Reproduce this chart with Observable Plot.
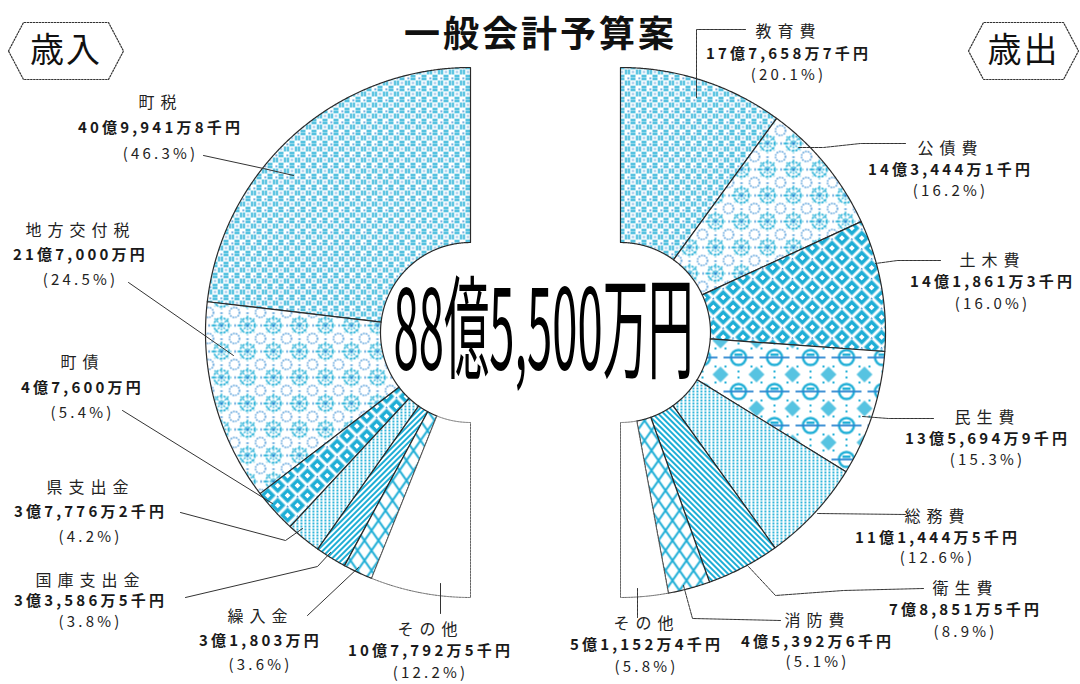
<!DOCTYPE html>
<html><head><meta charset="utf-8">
<script src="https://cdn.jsdelivr.net/npm/d3@7"></script>
<script src="https://cdn.jsdelivr.net/npm/@observablehq/plot@0.6"></script>
<style>body{margin:0;background:#fff} svg{display:block}</style>
</head><body><div id="chart"></div>
<script>
// ---------- DATA (amounts in 千円) ----------
const chartTitle = "一般会計予算案";
const revenueTitle = "歳入";
const expenditureTitle = "歳出";

const revenueNames = ["町税","地方交付税","町債","県支出金","国庫支出金","繰入金","その他"];
const revenueValues = [4099418, 2170000, 476000, 377762, 335865, 318030, 1077925];
const revenueAmounts = ["40億9,941万8千円","21億7,000万円","4億7,600万円","3億7,776万2千円","3億3,586万5千円","3億1,803万円","10億7,792万5千円"];
const revenuePercents = ["(46.3%)","(24.5%)","(5.4%)","(4.2%)","(3.8%)","(3.6%)","(12.2%)"];

const expenditureNames = ["教育費","公債費","土木費","民生費","総務費","衛生費","消防費","その他"];
const expenditureValues = [1776587, 1434441, 1418613, 1356949, 1114445, 788515, 453926, 511524];
const expenditureAmounts = ["17億7,658万7千円","14億3,444万1千円","14億1,861万3千円","13億5,694万9千円","11億1,444万5千円","7億8,851万5千円","4億5,392万6千円","5億1,152万4千円"];
const expenditurePercents = ["(20.1%)","(16.2%)","(16.0%)","(15.3%)","(12.6%)","(8.9%)","(5.1%)","(5.8%)"];

// ---------- STYLE / LAYOUT ----------
const C1 = "#1eaed6", C2 = "#2b86d1";
const revenuePatterns = ["lattice","flower","diamond","dots","diagL","cross",null];
const expenditurePatterns = ["lattice","flower","diamond","rings","dots","diagR","cross",null];

const geom = {R: 265, r: 90,
  left: {cx: 470, cy: 332, side: -1},
  right: {cx: 620, cy: 332, side: 1}};

const revenueLabelPos = [
  {x:160, y:[102,128,154]},
  {x:80,  y:[230,255,280]},
  {x:82,  y:[362,388,413]},
  {x:90,  y:[487,512,537]},
  {x:90,  y:[580,601,622]},
  {x:260, y:[616,641,665]},
  {x:430, y:[629,651,673]}
];
const expenditureLabelPos = [
  {x:788, y:[31,54,75]},
  {x:950, y:[148,170,191]},
  {x:992, y:[260,282,304]},
  {x:987, y:[417,439,460]},
  {x:937, y:[516,538,558]},
  {x:965, y:[588,610,632]},
  {x:817, y:[620,642,662]},
  {x:646, y:[623,645,667]}
];
const revenueLeaders = [
  [[203,155],[263,168],[293,175]],
  [[128,282],[233,355]],
  [[122,410],[272,503]],
  [[180,512],[285,540],[302,528]],
  [[185,597],[317,566],[330,552]],
  [[307,615],[358,567]],
  [[440,583],[440,613]]
];
const expenditureLeaders = [
  [[745,29],[696,29],[696,97]],
  [[905,143],[860,143],[823,147],[798,147]],
  [[940,260],[897,260],[875,263]],
  [[933,418],[888,418],[862,416]],
  [[905,514],[817,513]],
  [[923,588],[843,590],[775,595],[747,565]],
  [[780,620],[692,618],[683,585]],
  [[637,588],[637,617]]
];
const badges = [
  {text: revenueTitle, cx: 65.5, cy: 50.5, w: 115, h: 57, k: 15},
  {text: expenditureTitle, cx: 1023, cy: 50.5, w: 110, h: 57, k: 15}
];

// ---------- GEOMETRY FROM DATA ----------
function slices(values) {
  const total = d3.sum(values);
  let acc = 0;
  return values.map(v => {
    const a0 = acc / total * Math.PI; acc += v;
    return {a0, a1: acc / total * Math.PI};
  });
}
function wedgePoints(g, a0, a1) {
  const {R, r} = geom;
  const n = Math.max(2, Math.ceil((a1 - a0) / (Math.PI / 720)));
  const pts = [];
  for (let k = 0; k <= n; k++) { const a = a0 + (a1 - a0) * k / n; pts.push({x: g.cx + g.side * R * Math.sin(a), y: g.cy - R * Math.cos(a)}); }
  for (let k = n; k >= 0; k--) { const a = a0 + (a1 - a0) * k / n; pts.push({x: g.cx + g.side * r * Math.sin(a), y: g.cy - r * Math.cos(a)}); }
  pts.push(pts[0]);
  return pts;
}
function formatTotal(t) { // 千円 -> 億/万
  const oku = Math.floor(t / 100000), man = Math.floor((t % 100000) / 10), sen = t % 10;
  return `${oku}億${d3.format(",")(man)}万${sen ? sen + "千" : ""}円`;
}
const totalLabel = formatTotal(d3.sum(expenditureValues));

const marks = [];
function addHalf(values, patterns, g) {
  slices(values).forEach((s, i) => {
    const pts = wedgePoints(g, s.a0, s.a1);
    const pat = patterns[i];
    marks.push(Plot.line(pts, {x: "x", y: "y",
      fill: pat ? `url(#${pat})` : "#fff",
      stroke: pat ? "#2a2a2a" : "#555",
      strokeWidth: pat ? 1.2 : 0.9,
      strokeDasharray: pat ? null : "2,1",
      strokeLinejoin: "round"}));
  });
}
addHalf(revenueValues, revenuePatterns, geom.left);
addHalf(expenditureValues, expenditurePatterns, geom.right);

// leaders
const leaderRows = (arr, names) => arr.flatMap((pts, i) => pts.map(([x, y]) => ({x, y, k: names[i]})));
marks.push(Plot.line(leaderRows(revenueLeaders, revenueNames), {x: "x", y: "y", z: "k", stroke: "#333", strokeWidth: 1}));
marks.push(Plot.line(leaderRows(expenditureLeaders, expenditureNames), {x: "x", y: "y", z: "k", stroke: "#333", strokeWidth: 1, strokeDasharray: "3,1"}));

// labels
function labelRows(names, amounts, pcts, pos) {
  return names.flatMap((n, i) => [
    {x: pos[i].x, y: pos[i].y[0], t: n, kind: "name"},
    {x: pos[i].x, y: pos[i].y[1], t: amounts[i], kind: "amount"},
    {x: pos[i].x, y: pos[i].y[2], t: pcts[i], kind: "pct"}
  ]);
}
const rows = [...labelRows(revenueNames, revenueAmounts, revenuePercents, revenueLabelPos),
              ...labelRows(expenditureNames, expenditureAmounts, expenditurePercents, expenditureLabelPos)];
marks.push(Plot.text(rows.filter(d => d.kind === "name"), {x: "x", y: "y", text: "t", fontSize: 16, fill: "#222"}));
marks.push(Plot.text(rows.filter(d => d.kind === "amount"), {x: "x", y: "y", text: "t", fontSize: 15, fontWeight: 700, fill: "#1a1a1a"}));
marks.push(Plot.text(rows.filter(d => d.kind === "pct"), {x: "x", y: "y", text: "t", fontSize: 15, fill: "#222"}));

// badges
const badgePts = badges.flatMap(b => {
  const L = b.cx - b.w / 2, Rr = b.cx + b.w / 2, T = b.cy - b.h / 2, B = b.cy + b.h / 2;
  return [[L, b.cy],[L + b.k, T],[Rr - b.k, T],[Rr, b.cy],[Rr - b.k, B],[L + b.k, B],[L, b.cy]].map(([x, y]) => ({x, y, k: b.text}));
});
marks.push(Plot.line(badgePts, {x: "x", y: "y", z: "k", stroke: "#333", strokeWidth: 1.2, strokeDasharray: "1.5,1.5"}));
marks.push(Plot.text(badges, {x: "cx", y: "cy", text: "text", fontSize: 34, fill: "#111"}));

// title & total
marks.push(Plot.text([chartTitle], {x: 540, y: 35, text: d => d, fontSize: 36, fontWeight: 700, fill: "#111"}));
marks.push(Plot.text([totalLabel], {x: 543, y: 334, text: d => d, fontSize: 112, fill: "#000"}));

const svg = Plot.plot({
  width: 1080, height: 684, margin: 0,
  x: {domain: [0, 1080], range: [0, 1080], axis: null},
  y: {domain: [0, 684], range: [0, 684], axis: null},
  style: {fontFamily: "'Noto Sans CJK JP', 'Noto Sans', sans-serif", background: "#fff"},
  marks
});

// patterns
const defs = d3.select(svg).insert("defs", ":first-child");
function pat(id, w, h, transform) {
  const p = defs.append("pattern").attr("id", id).attr("patternUnits", "userSpaceOnUse").attr("width", w).attr("height", h);
  if (transform) p.attr("patternTransform", transform);
  p.append("rect").attr("width", w).attr("height", h).attr("fill", "#fff");
  return p;
}
{ const p = pat("lattice", 11, 11);
  p.append("path").attr("d", "M3,1.5H8M9.5,3V8M8,9.5H3M1.5,8V3").attr("stroke", C1).attr("stroke-width", 1.8).attr("fill", "none");
  p.append("rect").attr("x", 4.5).attr("y", 4.5).attr("width", 2).attr("height", 2).attr("fill", C2).attr("opacity", 0.6);
  p.append("rect").attr("x", 0).attr("y", 0).attr("width", 1.6).attr("height", 1.6).attr("fill", C2); }
{ const p = pat("flower", 26, 26);
  p.append("circle").attr("cx", 13).attr("cy", 13).attr("r", 7.5).attr("fill", "none").attr("stroke", C1).attr("stroke-width", 1.6).attr("stroke-dasharray", "2.5,1.2");
  p.append("path").attr("d", "M6,6L20,20M20,6L6,20M13,3V23M3,13H23").attr("stroke", C1).attr("stroke-width", 1.3).attr("stroke-dasharray", "2,1.2");
  for (const [x, y] of [[0,0],[26,0],[0,26],[26,26]]) p.append("circle").attr("cx", x).attr("cy", y).attr("r", 5).attr("fill", "none").attr("stroke", C2).attr("stroke-width", 1.3).attr("stroke-dasharray", "1.5,1.2");
  for (const [x, y] of [[13,0],[0,13],[13,13]]) p.append("rect").attr("x", x - 1.2).attr("y", y - 1.2).attr("width", 2.4).attr("height", 2.4).attr("fill", C2); }
{ const p = pat("diamond", 14, 14, "rotate(45)");
  p.append("rect").attr("x", 1.5).attr("y", 1.5).attr("width", 11).attr("height", 11).attr("fill", C1);
  p.append("rect").attr("x", 5).attr("y", 5).attr("width", 4).attr("height", 4).attr("fill", "#fff");
  p.append("rect").attr("x", 0).attr("y", 0).attr("width", 1.5).attr("height", 1.5).attr("fill", C2); }
{ const p = pat("rings", 36, 34);
  for (const [x, y] of [[0,0],[36,0],[0,34],[36,34]]) p.append("path").attr("d", `M${x},${y-8}L${x+8},${y}L${x},${y+8}L${x-8},${y}Z`).attr("fill", C1).attr("opacity", 0.75);
  p.append("circle").attr("cx", 18).attr("cy", 17).attr("r", 7.5).attr("fill", "none").attr("stroke", C1).attr("stroke-width", 2.4);
  p.append("path").attr("d", "M3,17H33").attr("stroke", C2).attr("stroke-width", 1.8);
  p.append("rect").attr("x", 14).attr("y", 13).attr("width", 8).attr("height", 2.5).attr("fill", C1);
  for (const [x, y] of [[18,3],[18,31],[5,26],[31,26],[5,8],[31,8]]) p.append("rect").attr("x", x - 1).attr("y", y - 1).attr("width", 2).attr("height", 2).attr("fill", C1); }
{ const p = pat("dots", 4, 3);
  p.append("rect").attr("x", 0).attr("y", 0).attr("width", 1.8).attr("height", 2).attr("fill", C1); }
{ const p = pat("diagL", 4, 4, "rotate(45)");
  p.append("rect").attr("x", 0).attr("y", 0).attr("width", 2).attr("height", 4).attr("fill", C1); }
{ const p = pat("diagR", 4, 4, "rotate(-45)");
  p.append("rect").attr("x", 0).attr("y", 0).attr("width", 2).attr("height", 4).attr("fill", C1); }
{ const p = pat("cross", 14, 20);
  p.append("path").attr("d", "M0,0L14,20M14,0L0,20").attr("stroke", C1).attr("stroke-width", 2); }

// text fine-tuning
const nameSet = new Set([...revenueNames, ...expenditureNames]);
d3.select(svg).selectAll("text").each(function() {
  const t = this.textContent;
  if (t === totalLabel) {
    this.setAttribute("textLength", 300);
    this.setAttribute("lengthAdjust", "spacingAndGlyphs");
  } else if (t === chartTitle) {
    this.style.letterSpacing = "3px";
  } else if (t === revenueTitle || t === expenditureTitle) {
    this.style.letterSpacing = "2px";
  } else if (nameSet.has(t)) {
    this.style.letterSpacing = "6px";
  } else {
    this.style.letterSpacing = "3.2px";
  }
});

document.getElementById("chart").appendChild(svg);
</script>
</body></html>
